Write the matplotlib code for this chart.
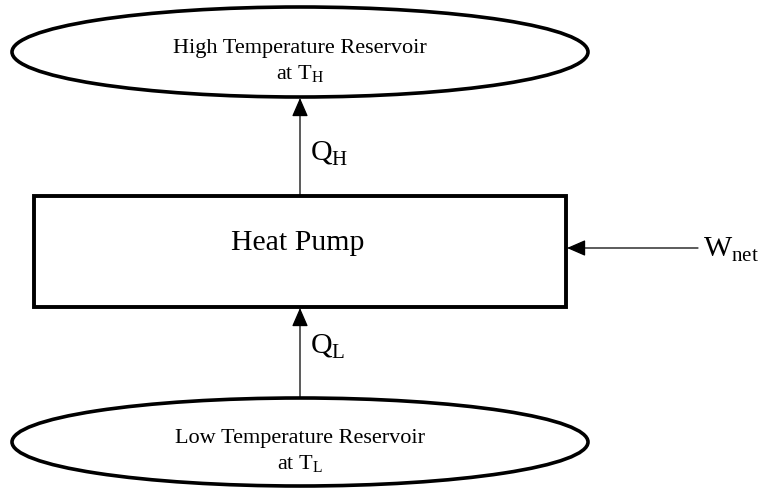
import matplotlib.pyplot as plt
from matplotlib.patches import Ellipse, Rectangle

plt.rcParams['font.family'] = ['Liberation Serif', 'DejaVu Serif']

# labels of the diagram
hot_label = ['High Temperature Reservoir', 'at T$_\\mathregular{H}$']
cold_label = ['Low Temperature Reservoir', 'at T$_\\mathregular{L}$']
pump_label = 'Heat Pump'
flow_labels = ['Q$_\\mathregular{H}$', 'Q$_\\mathregular{L}$', 'W$_\\mathregular{net}$']

fig = plt.figure(figsize=(7.6, 4.89), dpi=100)
ax = fig.add_axes([0, 0, 1, 1])
ax.set_xlim(0, 760)
ax.set_ylim(489, 0)
ax.axis('off')

# reservoirs
ax.add_patch(Ellipse((300, 53), 576, 90, fill=False, lw=2.6, ec='black'))
ax.add_patch(Ellipse((300, 443), 576, 88, fill=False, lw=2.6, ec='black'))
ax.text(300, 48, hot_label[0], ha='center', va='center', fontsize=16)
ax.text(300, 74, hot_label[1], ha='center', va='center', fontsize=16)
ax.text(300, 438, cold_label[0], ha='center', va='center', fontsize=16)
ax.text(300, 464, cold_label[1], ha='center', va='center', fontsize=16)

# heat pump box
ax.add_patch(Rectangle((34, 197), 532, 111, fill=False, lw=2.8, ec='black'))
ax.text(298, 243, pump_label, ha='center', va='center', fontsize=21.5)

arrow = dict(arrowstyle='-|>,head_length=1.15,head_width=0.5', lw=0.9, color='black',
             shrinkA=0, shrinkB=0)
ax.annotate('', xy=(300, 99), xytext=(300, 196), arrowprops=arrow)
ax.annotate('', xy=(300, 309), xytext=(300, 399), arrowprops=arrow)
ax.annotate('', xy=(567, 249), xytext=(698, 249), arrowprops=arrow)

ax.text(310, 154, flow_labels[0], ha='left', va='center', fontsize=21.5)
ax.text(310, 347, flow_labels[1], ha='left', va='center', fontsize=21.5)
ax.text(703, 250, flow_labels[2], ha='left', va='center', fontsize=21.5)

fig.savefig('out.png', dpi=100, facecolor='white')
